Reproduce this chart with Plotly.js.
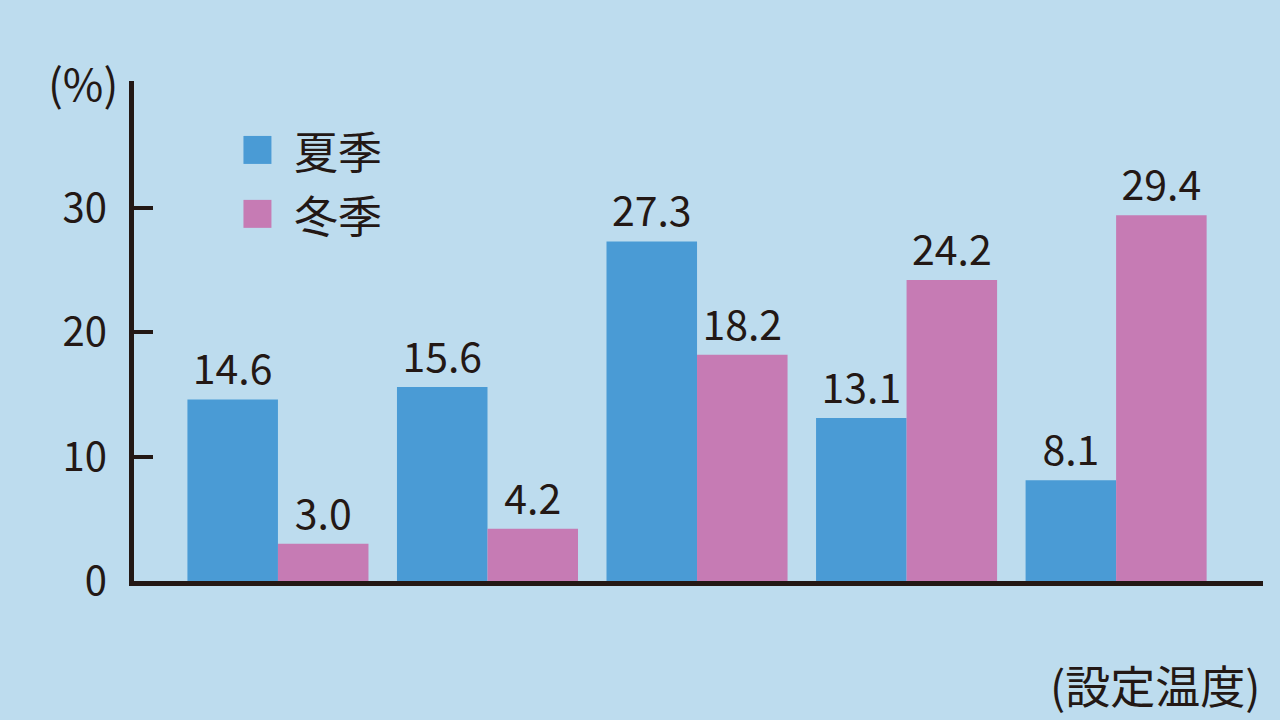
<!DOCTYPE html>
<html>
<head>
<meta charset="utf-8">
<script src="https://cdn.plot.ly/plotly-3.0.1.min.js"></script>
<style>
  html,body{margin:0;padding:0;background:#bddcee;}
  #chart{width:1280px;height:720px;}
</style>
</head>
<body>
<div id="chart"></div>
<script>
// 設定温度の区分（図中にラベルなし）
const categories = ['区分1', '区分2', '区分3', '区分4', '区分5'];
const seriesNames = ['夏季', '冬季'];
const summer = [14.6, 15.6, 27.3, 13.1, 8.1];
const winter = [3.0, 4.2, 18.2, 24.2, 29.4];
const yTicks = [0, 10, 20, 30];

const BLUE = '#4a9bd5', PINK = '#c67bb4', INK = '#231815';
const FONT = '"Noto Sans CJK JP", "Noto Sans", sans-serif';

// plot area in pixels (for placing the legend and notes)
const M = {l: 133.5, r: 17, t: 81, b: 138.5};
const PW = 1280 - M.l - M.r, PH = 720 - M.t - M.b;
const px = x => (x - M.l) / PW;
const py = y => (720 - M.b - y) / PH;

const bar = (name, ys, color) => ({
  type: 'bar', name, x: categories, y: ys,
  marker: {color, line: {width: 0}},
  text: ys.map(v => v.toFixed(1)), textposition: 'outside',
  textfont: {family: FONT, size: 41, color: INK},
  cliponaxis: false, hoverinfo: 'x+y'
});

const traces = [bar(seriesNames[0], summer, BLUE), bar(seriesNames[1], winter, PINK)];

// 凡例（四角＋文字）
const legendColors = [BLUE, PINK];
const shapes = [], annotations = [];
seriesNames.forEach((n, i) => {
  const top = 136 + i * 64;
  shapes.push({type: 'rect', xref: 'paper', yref: 'paper', layer: 'above',
    x0: px(243), x1: px(271), y0: py(top + 28), y1: py(top),
    fillcolor: legendColors[i], line: {width: 0}});
  annotations.push({xref: 'paper', yref: 'paper', showarrow: false,
    x: px(292), y: py(top + 14), xanchor: 'left', yanchor: 'middle',
    text: n, font: {family: FONT, size: 44, color: INK}});
});
annotations.push({xref: 'paper', yref: 'paper', showarrow: false,
  x: px(119), y: py(82), xanchor: 'right', yanchor: 'middle',
  text: '(%)', font: {family: FONT, size: 44, color: INK}});
annotations.push({xref: 'paper', yref: 'paper', showarrow: false,
  x: px(1262), y: py(685), xanchor: 'right', yanchor: 'middle',
  text: '(設定温度)', font: {family: FONT, size: 45, color: INK}});

const layout = {
  width: 1280, height: 720,
  margin: {l: M.l, r: M.r, t: M.t, b: M.b, pad: 0},
  paper_bgcolor: '#bddcee', plot_bgcolor: '#bddcee',
  font: {family: FONT, color: INK},
  barmode: 'group', bargap: 0.136, bargroupgap: 0,
  showlegend: false,
  xaxis: {range: [-0.687, 4.701], showticklabels: false, ticks: '', showgrid: false,
    zeroline: false, showline: true, linecolor: INK, linewidth: 5, fixedrange: true},
  yaxis: {range: [0, 40.2], tickvals: yTicks, ticktext: yTicks.map(String), ticks: 'inside',
    ticklen: 19, tickwidth: 4, tickcolor: INK, showgrid: false, zeroline: false,
    showline: true, linecolor: INK, linewidth: 5, ticklabelstandoff: 14,
    tickfont: {family: FONT, size: 40, color: INK}, fixedrange: true},
  shapes, annotations
};

Plotly.newPlot('chart', traces, layout, {displayModeBar: false, staticPlot: true});
</script>
</body>
</html>
